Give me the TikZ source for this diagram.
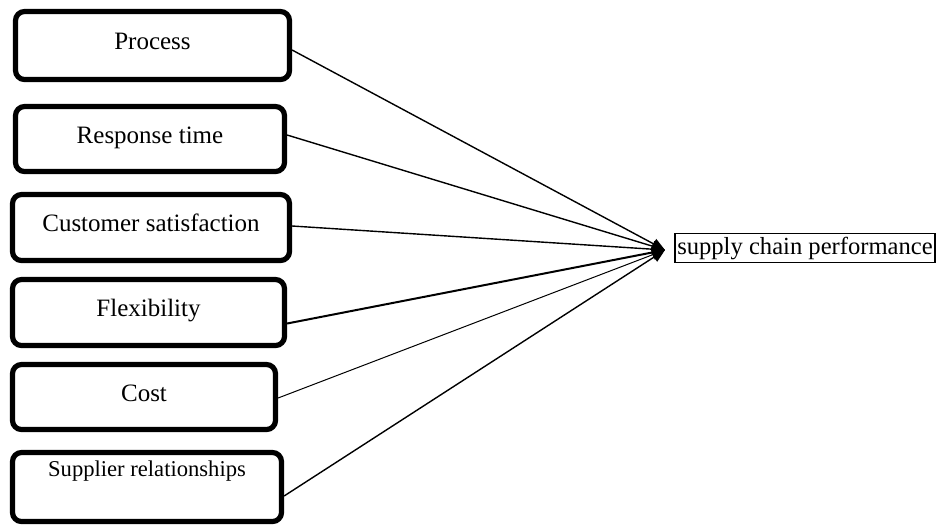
\documentclass[tikz,border=0pt]{standalone}
\usepackage{fontspec}
\setmainfont{Liberation Serif}
\usetikzlibrary{arrows.meta,calc}
\begin{document}
\begin{tikzpicture}[x=0.5pt,y=-0.5pt,
  factor/.style={draw=black,line width=2.6pt,rounded corners=4.5pt,fill=white,
    inner sep=0pt,text height=6pt,text depth=2pt,font=\fontsize{12.5}{14}\selectfont},
  link/.style={line width=0.7pt,-{Triangle[length=6.5pt,width=5.5pt]}},
  target/.style={draw=black,line width=0.8pt,inner sep=1pt,minimum width=129pt,
    minimum height=14.5pt,font=\fontsize{12.3}{14}\selectfont}]
\useasboundingbox (0,0) rectangle (938,526);
\node[factor,minimum width=137pt,minimum height=34pt] (p1) at (152.5,45.5) {Process};
\node[factor,minimum width=134.5pt,minimum height=32.5pt] (p2) at (150,139) {Response time};
\node[factor,minimum width=138.5pt,minimum height=33pt] (p3) at (151,227.5) {Customer satisfaction};
\node[factor,minimum width=136pt,minimum height=33pt] (p4) at (148.5,312.5) {Flexibility};
\node[factor,minimum width=131.5pt,minimum height=32.5pt] (p5) at (144,397) {Cost};
\node[factor,minimum width=134.5pt,minimum height=34.5pt] (p6) at (147,487) {};
\node[font=\fontsize{11.3}{13}\selectfont,inner sep=0pt] (p6t) at (147,471) {Supplier relationships};
\node[target] (scp) at (805,248) {supply chain performance};
\coordinate (tip) at (665,250);
\draw[link] ([yshift=-2.25pt]p1.east) -- (tip);
\draw[link] ([yshift=2pt]p2.east) -- (tip);
\draw[link] ([yshift=0.75pt]p3.east) -- (tip);
\draw[link,line width=1pt] ([yshift=-5.5pt]p4.east) -- (tip);
\draw[link,line width=0.5pt] ([yshift=-0.5pt]p5.east) -- (tip);
\draw[link] ([yshift=-4.5pt]p6.east) -- (tip);
\end{tikzpicture}
\end{document}
